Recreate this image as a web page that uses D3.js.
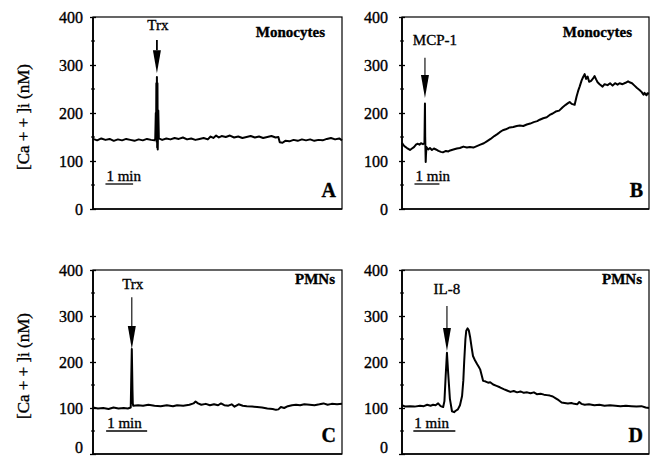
<!DOCTYPE html>
<html><head><meta charset="utf-8">
<script src="https://cdn.jsdelivr.net/npm/d3@7"></script>
<style>body{margin:0;background:#fff}svg{display:block}text{font-family:"Liberation Serif","Times New Roman",serif;fill:#000;stroke:#000;stroke-width:0.35px}</style>
</head><body><svg id="c" width="650" height="459"></svg>
<script>
// ---- data ----
const yTicks = [0, 100, 200, 300, 400];
const yMinorTicks = [50, 150, 250, 350];
const yLabel = "[Ca + + ]i (nM)";
const panelLetters = ["A", "B", "C", "D"];
const cellTypes = ["Monocytes", "Monocytes", "PMNs", "PMNs"];
const stimuli = ["Trx", "MCP-1", "Trx", "IL-8"];
const stimTimes = [2.31, 0.92, 0.946, 1.07];          // min
const arrowTop = [352, 315, 341, 322];               // nM
const arrowTip = [283, 231, 228, 224];               // nM
const labelLevel = [373, 342, 359, 348];             // nM
const timeSpans = [9.0, 9.9, 6.07, 5.88];            // min shown per panel

const traceA = [[0,146],[0.15,143],[0.3,147],[0.45,144],[0.6,146],[0.75,142],[0.9,145],[1.05,143],[1.2,146],[1.35,144],[1.5,142],[1.65,145],[1.8,143],[1.95,146],[2.1,144],[2.22,143],[2.25,146],[2.27,200],[2.28,150],[2.29,262],[2.30,140],[2.31,275],[2.32,128],[2.33,262],[2.34,124],[2.36,205],[2.38,147],[2.5,144],[2.65,147],[2.8,145],[2.95,148],[3.1,146],[3.25,149],[3.4,145],[3.55,147],[3.7,144],[3.85,146],[4.0,148],[4.15,145],[4.25,151],[4.35,148],[4.45,153],[4.55,149],[4.65,152],[4.8,150],[4.95,153],[5.1,149],[5.25,151],[5.4,148],[5.55,150],[5.7,152],[5.85,149],[6.0,151],[6.15,148],[6.3,150],[6.45,152],[6.6,149],[6.7,150],[6.75,139],[6.85,138],[6.95,142],[7.1,141],[7.25,144],[7.4,142],[7.55,145],[7.7,143],[7.85,145],[8.0,142],[8.15,144],[8.3,143],[8.45,146],[8.6,148],[8.75,145],[8.9,147],[9.0,143]];
const traceB = [[0,138],[0.06,133],[0.12,130],[0.2,127],[0.32,123],[0.4,126],[0.48,129],[0.56,134],[0.62,136],[0.7,134],[0.76,137],[0.84,135],[0.9,137],[0.91,180],[0.92,220],[0.93,150],[0.95,98],[0.96,112],[0.98,129],[1.05,124],[1.12,127],[1.2,123],[1.28,126],[1.36,124],[1.46,121],[1.56,119],[1.64,118],[1.76,121],[1.86,120],[1.93,122],[2.06,124],[2.2,126],[2.32,127],[2.46,130],[2.6,128],[2.72,129],[2.86,128],[3.0,131],[3.14,134],[3.28,137],[3.4,141],[3.55,146],[3.7,152],[3.82,156],[3.92,160],[4.04,164],[4.16,166],[4.32,170],[4.46,171],[4.6,173],[4.72,174],[4.86,173],[5.0,176],[5.14,178],[5.28,181],[5.42,183],[5.52,186],[5.66,189],[5.8,191],[5.92,196],[6.04,199],[6.16,203],[6.3,205],[6.44,212],[6.56,217],[6.64,220],[6.72,223],[6.8,219],[6.92,217],[7.0,235],[7.06,246],[7.12,255],[7.2,268],[7.26,275],[7.32,281],[7.38,271],[7.44,276],[7.5,265],[7.58,267],[7.66,272],[7.72,277],[7.78,270],[7.84,264],[7.92,260],[8.04,255],[8.12,260],[8.24,258],[8.34,262],[8.44,257],[8.54,262],[8.64,259],[8.72,262],[8.84,260],[8.96,263],[9.06,266],[9.12,264],[9.22,262],[9.32,257],[9.42,252],[9.52,248],[9.6,244],[9.68,238],[9.72,242],[9.8,237],[9.84,241],[9.9,240]];
const traceC = [[0,101],[0.12,99],[0.25,100],[0.38,98],[0.5,101],[0.62,99],[0.75,100],[0.85,99],[0.92,101],[0.93,150],[0.94,200],[0.946,228],[0.955,180],[0.962,140],[0.97,110],[0.98,105],[1.1,106],[1.22,105],[1.35,107],[1.5,105],[1.65,104],[1.8,106],[1.95,104],[2.05,106],[2.2,105],[2.35,107],[2.45,110],[2.5,114],[2.56,110],[2.64,107],[2.75,109],[2.85,106],[2.95,108],[3.05,106],[3.12,110],[3.2,106],[3.3,105],[3.38,108],[3.45,103],[3.55,108],[3.65,105],[3.75,104],[3.88,103],[4.0,102],[4.12,101],[4.25,99],[4.38,98],[4.46,96],[4.52,97],[4.58,102],[4.66,100],[4.75,104],[4.85,106],[4.95,107],[5.05,106],[5.15,108],[5.28,107],[5.4,106],[5.52,108],[5.62,110],[5.72,107],[5.82,109],[5.95,108],[6.07,109]];
const traceD = [[0,106],[0.08,103],[0.19,104],[0.3,103],[0.43,105],[0.52,104],[0.6,107],[0.68,105],[0.74,107],[0.8,106],[0.86,110],[0.92,104],[0.98,102],[1.01,115],[1.04,170],[1.07,220],[1.1,175],[1.14,120],[1.19,93],[1.24,91],[1.28,94],[1.33,97],[1.38,106],[1.43,126],[1.46,160],[1.48,200],[1.51,250],[1.53,268],[1.56,273],[1.59,269],[1.62,255],[1.66,230],[1.69,213],[1.74,203],[1.79,195],[1.83,189],[1.86,184],[1.9,170],[1.93,159],[1.98,158],[2.05,155],[2.1,156],[2.17,151],[2.25,148],[2.33,145],[2.42,141],[2.5,138],[2.58,135],[2.66,137],[2.74,134],[2.82,136],[2.9,133],[2.98,134],[3.06,132],[3.14,134],[3.21,130],[3.3,131],[3.38,129],[3.45,128],[3.52,127],[3.59,125],[3.66,121],[3.73,117],[3.8,112],[3.87,111],[3.95,110],[4.03,111],[4.1,109],[4.17,108],[4.22,113],[4.27,109],[4.35,107],[4.45,108],[4.58,106],[4.7,107],[4.82,105],[4.95,106],[5.08,105],[5.2,104],[5.33,105],[5.46,104],[5.58,103],[5.7,104],[5.8,101],[5.88,100]];
const traces = [traceA, traceB, traceC, traceD];

// ---- layout ----
const boxes = [
  {x0: 93, x1: 342, y0: 17, y1: 209},
  {x0: 402, x1: 649, y0: 17, y1: 209},
  {x0: 93, x1: 342, y0: 270, y1: 454},
  {x0: 402, x1: 649, y0: 270, y1: 454}
];
const labelDx = [1, 10, 1, 0];
const scaleBarStart = [0.45, 0.5, 0.32, 0.27];
const svg = d3.select("#c");

boxes.forEach((b, i) => {
  const x = d3.scaleLinear().domain([0, timeSpans[i]]).range([b.x0, b.x1]);
  const y = d3.scaleLinear().domain([0, 400]).range([b.y1, b.y0]);
  const g = svg.append("g");

  // frame
  g.append("rect").attr("x", b.x0).attr("y", b.y0).attr("width", b.x1 - b.x0).attr("height", b.y1 - b.y0)
    .attr("fill", "none").attr("stroke", "#000").attr("stroke-width", 1.2);
  g.append("line").attr("x1", b.x0).attr("x2", b.x0).attr("y1", b.y0).attr("y2", b.y1).attr("stroke", "#000").attr("stroke-width", 1.8);
  g.append("line").attr("x1", b.x0).attr("x2", b.x1).attr("y1", b.y1).attr("y2", b.y1).attr("stroke", "#000").attr("stroke-width", 1.6);

  // y axis
  const ax = g.append("g").attr("transform", `translate(${b.x0},0)`)
    .call(d3.axisLeft(y).tickValues(yTicks).tickSize(3).tickPadding(i % 2 ? 11 : 7).tickFormat(d3.format("d")));
  ax.select(".domain").remove();
  ax.selectAll(".tick line").attr("x2", -3).attr("x1", 3).attr("stroke-width", 1.3);
  ax.selectAll("text").style("font-size", "16px").style("font-family", '"Liberation Serif",serif')
    .attr("dy", d => (d === 0 && i >= 2) ? "-0.12em" : "0.34em");
  g.selectAll(".minor").data(yMinorTicks).join("line")
    .attr("x1", b.x0 - 2).attr("x2", b.x0 + 2).attr("y1", d => y(d)).attr("y2", d => y(d)).attr("stroke", "#000").attr("stroke-width", 1.1);

  // trace
  g.append("path").datum(traces[i])
    .attr("d", d3.line().x(d => x(d[0])).y(d => y(d[1])))
    .attr("fill", "none").attr("stroke", "#000").attr("stroke-width", 2).attr("stroke-linejoin", "round");

  // arrow
  const ax0 = x(stimTimes[i]);
  const tip = y(arrowTip[i]);
  const headStart = tip - 23;
  g.append("line").attr("x1", ax0).attr("x2", ax0).attr("y1", y(arrowTop[i])).attr("y2", headStart)
    .attr("stroke", "#000").attr("stroke-width", i === 0 ? 1.8 : 1.1);
  g.append("path").attr("d", `M${ax0 - 4},${headStart} L${ax0 + 4},${headStart} L${ax0},${tip} Z`).attr("fill", "#000");
  g.append("text").attr("x", ax0 + labelDx[i]).attr("y", y(labelLevel[i])).attr("text-anchor", "middle")
    .style("font-size", "15px").text(stimuli[i]);

  // cell type
  g.append("text").attr("x", b.x1 - (i < 2 ? 17 : 7)).attr("y", b.y0 + (i < 2 ? 20 : 14)).attr("text-anchor", "end")
    .style("font-size", "15px").style("font-weight", "bold").text(cellTypes[i]);
  // panel letter
  g.append("text").attr("x", b.x1 - 6).attr("y", b.y1 - 12).attr("text-anchor", "end")
    .style("font-size", "20px").style("font-weight", "bold").text(panelLetters[i]);

  // scale bar 1 min
  const s0 = x(scaleBarStart[i]), s1 = x(scaleBarStart[i] + 1);
  const barY = i < 2 ? b.y1 - 25 : b.y1 - 23;
  g.append("line").attr("x1", s0).attr("x2", s1).attr("y1", barY).attr("y2", barY).attr("stroke", "#000").attr("stroke-width", 1.3);
  g.append("text").attr("x", s0 + 1).attr("y", barY - 3).style("font-size", "15px").text("1 min");

  // y label
  if (i % 2 === 0) {
    const cy = (b.y0 + b.y1) / 2 + 4;
    g.append("text").attr("transform", `translate(29,${cy}) rotate(-90)`).attr("text-anchor", "middle")
      .style("font-size", "17px").text(yLabel);
  }
});
</script></body></html>
